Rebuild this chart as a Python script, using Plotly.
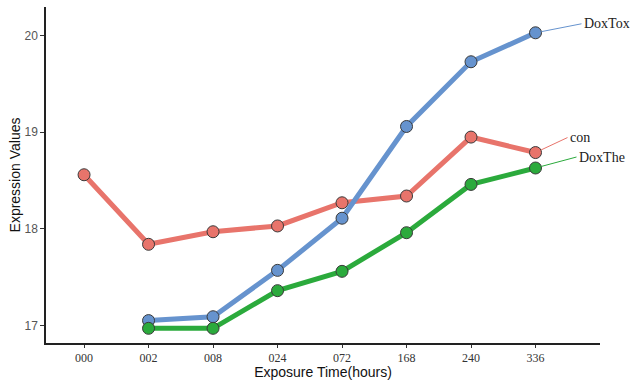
import plotly.graph_objects as go

categories = ["000", "002", "008", "024", "072", "168", "240", "336"]
con = [18.56, 17.84, 17.97, 18.03, 18.27, 18.34, 18.95, 18.79]
doxtox_x = ["002", "008", "024", "072", "168", "240", "336"]
doxtox = [17.05, 17.09, 17.57, 18.11, 19.06, 19.73, 20.03]
doxthe_x = ["002", "008", "024", "072", "168", "240", "336"]
doxthe = [16.97, 16.97, 17.36, 17.56, 17.96, 18.46, 18.63]
y_ticks = [17, 18, 19, 20]

series = [
    ("con", categories, con, "#E8746B", 32, -15),
    ("DoxTox", doxtox_x, doxtox, "#6693CE", 46, -9),
    ("DoxThe", doxthe_x, doxthe, "#2BAA3C", 41, -11),
]

fig = go.Figure()
for name, xs, ys, col, ax, ay in series:
    fig.add_trace(go.Scatter(
        x=[categories.index(c) for c in xs], y=ys, mode="lines+markers", name=name,
        line=dict(color=col, width=5),
        marker=dict(color=col, size=12, line=dict(color="#3a3a3a", width=1)),
    ))
for name, xs, ys, col, ax, ay in series:
    fig.add_annotation(
        x=categories.index(xs[-1]), y=ys[-1], text=name, showarrow=True,
        arrowhead=0, arrowwidth=1, arrowcolor=col, ax=ax, ay=ay,
        xanchor="left", yanchor="middle", standoff=6,
        font=dict(family="Liberation Serif", size=14, color="#222"),
    )

fig.update_layout(
    width=632, height=380, margin=dict(l=46, r=32, t=7, b=37),
    paper_bgcolor="white", plot_bgcolor="white", showlegend=False,
)
fig.update_xaxes(
    range=[-0.59, 8.0], tickmode="array", tickvals=list(range(len(categories))),
    ticktext=categories, showgrid=False, zeroline=False, automargin=False,
    showline=True, linecolor="#222", linewidth=1.5,
    ticks="outside", ticklen=3, tickcolor="#333",
    tickfont=dict(family="Liberation Serif", size=12, color="#333"),
    title=dict(text="Exposure Time(hours)", standoff=0,
               font=dict(family="Liberation Sans", size=14, color="#111")),
)
fig.update_yaxes(
    range=[16.818, 20.297], tickvals=y_ticks, showgrid=False, zeroline=False,
    automargin=False,
    showline=True, linecolor="#222", linewidth=1.5,
    ticks="outside", ticklen=4, tickcolor="#333",
    tickfont=dict(family="Liberation Sans", size=12, color="#555"),
    title=dict(text="Expression Values", standoff=1,
               font=dict(family="Liberation Sans", size=14, color="#111")),
)
fig.write_html("out.html")
